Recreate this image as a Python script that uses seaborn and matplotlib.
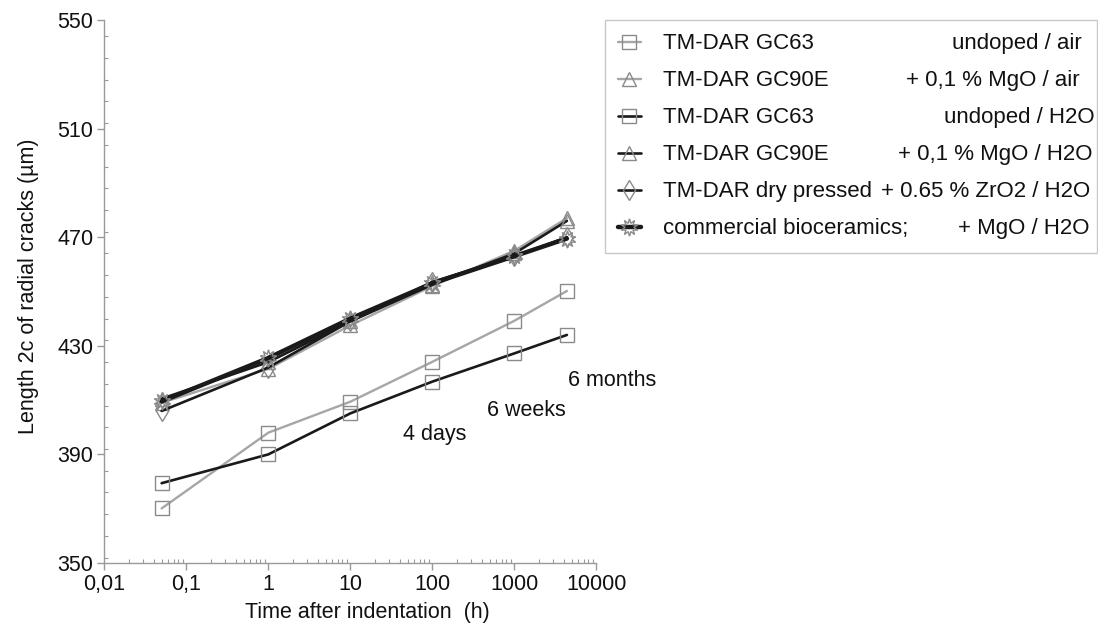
import numpy as np
import pandas as pd
import seaborn as sns
import matplotlib.pyplot as plt
from matplotlib.ticker import FixedLocator, MultipleLocator, LogLocator, NullFormatter

sns.set_theme(style="white")
plt.rcParams['font.family'] = ['Liberation Sans', 'DejaVu Sans']

# time after indentation (h): 3 min, 1 h, 10 h, 4 days, 6 weeks, 6 months
hours = [0.05, 1, 10, 100, 1000, 4380]

gc63_air = [370.1, 398.0, 409.4, 424.1, 439.2, 450.2]
gc90e_air = [409.0, 421.5, 437.5, 452.0, 465.0, 477.0]
gc63_h2o = [379.4, 390.0, 405.1, 416.8, 427.2, 434.0]
gc90e_h2o = [410.5, 424.0, 439.0, 452.5, 464.0, 476.0]
dry_h2o = [406.0, 422.0, 439.0, 453.5, 463.0, 470.0]
comm_h2o = [409.5, 425.5, 440.0, 453.0, 463.0, 469.5]

names = ["TM-DAR GC63", "TM-DAR GC90E", "TM-DAR GC63", "TM-DAR GC90E",
         "TM-DAR dry pressed", "commercial bioceramics;"]
details = ["undoped / air", "+ 0,1 % MgO / air", "undoped / H2O",
           "+ 0,1 % MgO / H2O", "+ 0.65 % ZrO2 / H2O", "+ MgO / H2O"]
series = [gc63_air, gc90e_air, gc63_h2o, gc90e_h2o, dry_h2o, comm_h2o]

xticks = [0.01, 0.1, 1, 10, 100, 1000, 10000]
xticklabels = ["0,01", "0,1", "1", "10", "100", "1000", "10000"]
yticks = [350, 390, 430, 470, 510, 550]

gray = '#a6a6a6'
black = '#1a1a1a'
mgray = '#8a8a8a'
styles = [
    dict(color=gray, lw=1.7, marker='s', ms=10.5),
    dict(color=gray, lw=1.7, marker='^', ms=10.5),
    dict(color=black, lw=1.9, marker='s', ms=10.5),
    dict(color=black, lw=1.9, marker='^', ms=10.5),
    dict(color=black, lw=1.9, marker='d', ms=10.5),
    dict(color=black, lw=3.2, marker=(10, 1, 0), ms=12.5),
]

fig = plt.figure(figsize=(10.98, 6.28), dpi=100)
ax = fig.add_axes([104.3 / 1098, 1 - 563 / 628, 492 / 1098, 543 / 628])

for name, vals, st in zip(names, series, styles):
    df = pd.DataFrame({'hours': hours, 'length': vals})
    sns.lineplot(data=df, x='hours', y='length', ax=ax, estimator=None, sort=False,
                 label=name, mfc='none', mec=mgray, mew=1.0, **st)

ax.set_xscale('log')
ax.set_xlim(0.01, 10000)
ax.set_ylim(350, 550)
ax.xaxis.set_major_locator(FixedLocator(xticks))
ax.set_xticklabels(xticklabels)
ax.xaxis.set_minor_locator(LogLocator(base=10, subs=np.arange(2, 10)))
ax.xaxis.set_minor_formatter(NullFormatter())
ax.set_yticks(yticks)
ax.yaxis.set_minor_locator(MultipleLocator(8))

for s in ['top', 'right']:
    ax.spines[s].set_visible(False)
for s in ['left', 'bottom']:
    ax.spines[s].set_color('#999999')
    ax.spines[s].set_linewidth(1.0)
ax.tick_params(which='major', direction='out', length=5, width=1, color='#999999',
               labelsize=15.5, labelcolor='#111111', pad=3)
ax.tick_params(which='minor', direction='in', length=3, width=0.8, color='#999999')
ax.tick_params(axis='x', which='both', bottom=True)
ax.tick_params(axis='y', which='both', left=True)

ax.set_xlabel("Time after indentation  (h)", fontsize=15.5, color='#111111')
ax.xaxis.set_label_coords(0.535, -0.072)
ax.set_ylabel("Length 2c of radial cracks (\u00b5m)", fontsize=15.5, color='#111111')
ax.yaxis.set_label_coords(-0.132, 0.51)

ax.text(4480, 417.4, "6 months", fontsize=15.5, va='center', color='#111111')
ax.text(464, 406.0, "6 weeks", fontsize=15.5, va='center', color='#111111')
ax.text(44, 397.5, "4 days", fontsize=15.5, va='center', color='#111111')

handles, labels = ax.get_legend_handles_labels()
leg = ax.legend(handles, labels, loc='upper left', mode='expand',
                bbox_to_anchor=(605 / 1098, 1 - 20 / 628, 492 / 1098, 0),
                bbox_transform=fig.transFigure, borderaxespad=0, frameon=True,
                fancybox=False, edgecolor='#bbbbbb', fontsize=16,
                handlelength=1.0, handletextpad=1.0, labelspacing=0.72, borderpad=0.6)
leg.get_frame().set_linewidth(1.0)
for t in leg.get_texts():
    t.set_color('#111111')

fig.canvas.draw()
inv = fig.transFigure.inverted()
right_edges = [1082, 1080, 1095, 1092, 1090, 1090]
for t, d, r in zip(leg.get_texts(), details, right_edges):
    bb = t.get_window_extent()
    yc = inv.transform((0, (bb.y0 + bb.y1) / 2))[1]
    fig.text(r / 1098, yc, d, ha='right', va='center', fontsize=16, color='#111111')

fig.savefig('out.png', dpi=100)
